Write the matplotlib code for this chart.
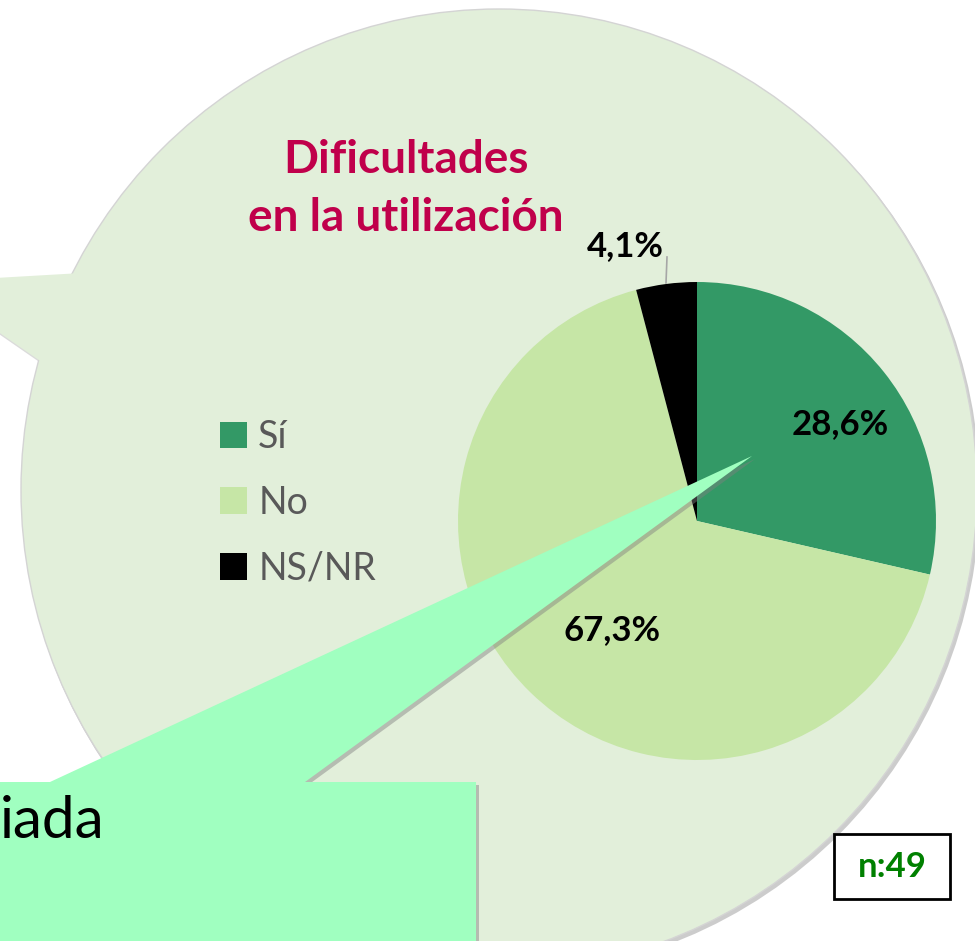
import matplotlib.pyplot as plt
from matplotlib.patches import Ellipse, Polygon, Rectangle

# -----------------------------------
# Data
# -----------------------------------
categories = ["Sí", "No", "NS/NR"]
values = [28.6, 67.3, 4.1]
colors = ["#339966", "#C6E6A6", "#000000"]
title_lines = ["Dificultades", "en la utilización"]
sample_label = "n:49"
callout_text = "iada"

W, H = 975, 941


def py(y):
    # pixel row (from top) -> data y (from bottom)
    return H - y


plt.rcParams["font.family"] = ["Lato", "DejaVu Sans"]

fig = plt.figure(figsize=(9.75, 9.41), dpi=100)
ax = fig.add_axes([0, 0, 1, 1])
ax.set_xlim(0, W)
ax.set_ylim(0, H)
ax.axis("off")

# -----------------------------------
# Speech bubble (background)
# -----------------------------------
bx, by, bw, bh = 499, 490, 956, 962
ax.add_patch(Ellipse((bx + 2, py(by + 3)), bw + 2, bh + 2, fc="#9A9A9A", ec="none", alpha=0.5, zorder=0))
tail_pts = [(-74, py(282)), (220, py(265)), (140, py(430))]
ax.add_patch(Polygon([(x + 2, y - 3) for x, y in tail_pts], fc="#9A9A9A", alpha=0.35, ec="none", zorder=0))
ax.add_patch(Ellipse((bx, py(by)), bw, bh, fc="#E2EFDA", ec="#D4D4D4", lw=1.0, zorder=1))
ax.add_patch(Polygon(tail_pts, fc="#E2EFDA", ec="none", zorder=1))

# -----------------------------------
# Title
# -----------------------------------
ax.text(406, py(160), title_lines[0], ha="center", va="center",
        fontsize=33, fontweight="bold", color="#C0004B", zorder=3)
ax.text(406, py(218), title_lines[1], ha="center", va="center",
        fontsize=33, fontweight="bold", color="#C0004B", zorder=3)

# -----------------------------------
# Pie
# -----------------------------------
wedges, _ = ax.pie(values, colors=colors, startangle=90, counterclock=False,
                   center=(697, py(521)), radius=239, frame=True,
                   wedgeprops=dict(linewidth=0, zorder=2))
ax.set_xlim(0, W)
ax.set_ylim(0, H)
ax.set_aspect("auto")
ax.axis("off")

label_pos = [(840, 424), (612, 630), (625, 246)]
for v, (lx, ly) in zip(values, label_pos):
    ax.text(lx, py(ly), f"{v:.1f}%".replace(".", ","), ha="center", va="center",
            fontsize=25, fontweight="bold", color="black", zorder=4)
# leader line for the small slice
ax.plot([667, 666], [py(257), py(283)], color="#A6A6A6", lw=1.2, zorder=3)

# legend
leg = ax.legend(wedges, categories, loc="upper left", bbox_to_anchor=(220 / W, 1 - 419 / H),
                frameon=False, fontsize=27, handlelength=0.72, handleheight=0.72,
                handletextpad=0.3, labelspacing=0.79, borderaxespad=0, borderpad=0)
for t in leg.get_texts():
    t.set_color("#595959")

# -----------------------------------
# Callout box (over the pie)
# -----------------------------------
call = [(-10, py(782)), (50, py(782)), (752, py(456)), (305, py(782)),
        (476, py(782)), (476, py(960)), (-10, py(960))]
ax.add_patch(Polygon([(x + 3, y - 3) for x, y in call], fc="#7F7F7F", alpha=0.45, ec="none", zorder=5))
ax.add_patch(Polygon(call, fc="#A0FFC0", ec="none", zorder=6))
ax.text(0, py(838), callout_text, ha="left", va="baseline", fontsize=42, color="black", zorder=7)

# -----------------------------------
# Sample size box
# -----------------------------------
ax.add_patch(Rectangle((834, py(899)), 116, 65, fc="white", ec="black", lw=2, zorder=8))
ax.text(892, py(867), sample_label, ha="center", va="center", fontsize=25,
        fontweight="bold", color="#008000", zorder=9)

fig.savefig("out.png", dpi=100)
